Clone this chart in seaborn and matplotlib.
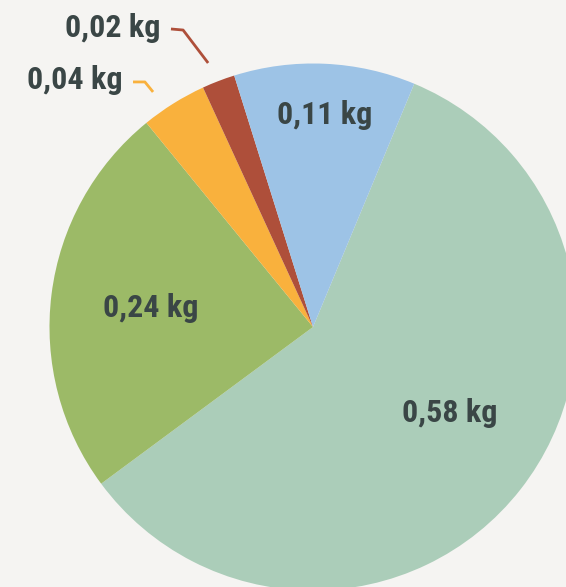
import matplotlib
matplotlib.use("Agg")
import matplotlib.pyplot as plt
import seaborn as sns
import numpy as np

# ---- data ----
values = [0.58, 0.24, 0.04, 0.02, 0.11]
labels = ["0,58 kg", "0,24 kg", "0,04 kg", "0,02 kg", "0,11 kg"]
colors = ["#ABCDB9", "#9CBA67", "#F9B13D", "#AE4F3A", "#9DC3E6"]

BG = "#F5F4F2"
TXT = "#3A4646"

sns.set_theme(style="white", rc={"figure.facecolor": BG, "axes.facecolor": BG})
plt.rcParams["font.family"] = ["Roboto Condensed", "Roboto", "DejaVu Sans"]
palette = sns.color_palette(colors)

fig = plt.figure(figsize=(5.66, 5.87), dpi=100)
ax = fig.add_axes([0, 0, 1, 1])
ax.set_facecolor(BG)

start = 90 - 22.6
wedges, _ = ax.pie(values, colors=palette, startangle=start, counterclock=False,
                   radius=1.0, center=(0, 0), wedgeprops=dict(linewidth=0),
                   frame=False)

scale = 263.5
ax.set_xlim(-313 / scale, (566 - 313) / scale)
ax.set_ylim(-(587 - 327) / scale, 327 / scale)
ax.set_aspect("equal")
ax.axis("off")

fs = 23
dy = -0.008
# inside labels (text positions in pie units)
inside = {0: (0.52, -0.32), 1: (-0.615, 0.08), 4: (0.046, 0.812)}
for i, (x, y) in inside.items():
    ax.text(x, y + dy, labels[i], ha="center", va="center", fontsize=fs,
            fontweight="bold", color=TXT)

# outside labels with leader lines
outside = {
    3: dict(text=(-0.759, 1.142), pts=[(-0.539, 1.131), (-0.493, 1.127), (-0.398, 1.002)]),
    2: dict(text=(-0.903, 0.945), pts=[(-0.683, 0.930), (-0.638, 0.930), (-0.607, 0.892)]),
}
for i, d in outside.items():
    tx, ty = d["text"]
    ax.text(tx, ty + dy, labels[i], ha="center", va="center", fontsize=fs,
            fontweight="bold", color=TXT)
    xs, ys = zip(*d["pts"])
    ax.plot(xs, ys, color=colors[i], lw=2.0, solid_capstyle="butt")

fig.savefig("out.png", dpi=100, facecolor=BG)
